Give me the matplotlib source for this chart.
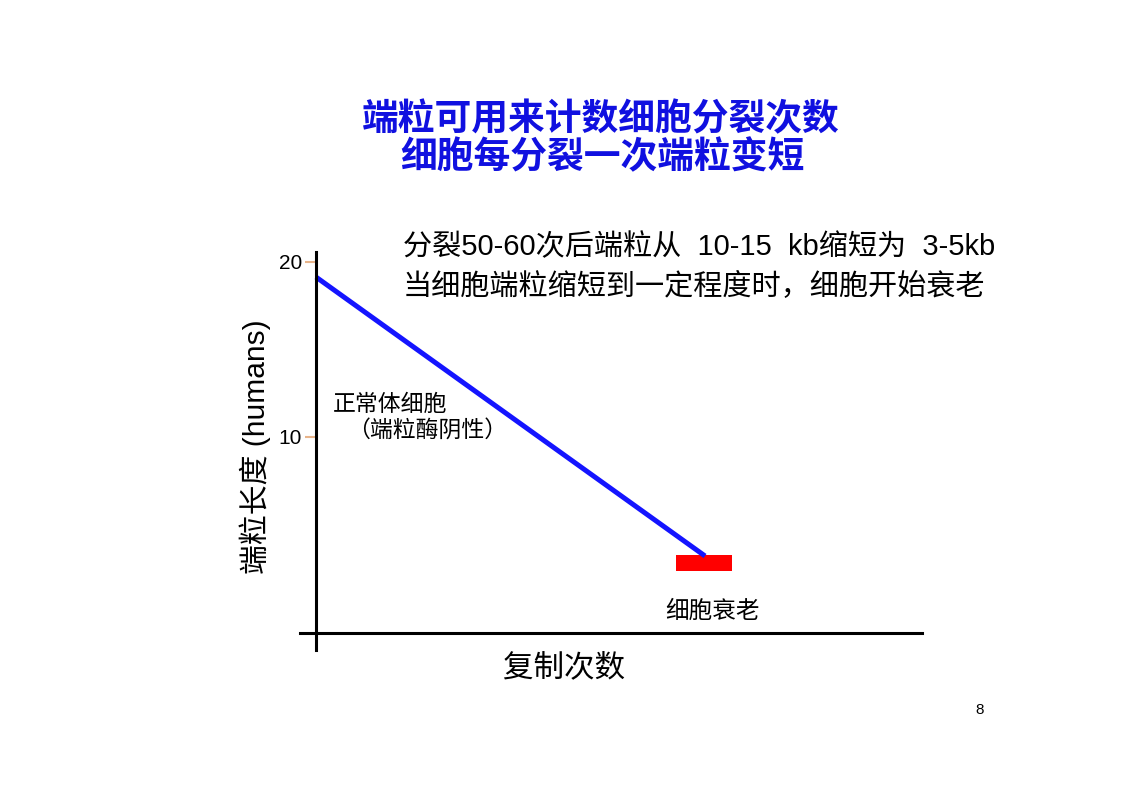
import matplotlib
matplotlib.use("Agg")
import matplotlib.pyplot as plt

plt.rcParams['font.family'] = ['Noto Sans CJK SC', 'DejaVu Sans']

# Data
line_x = [0, 50]
line_y = [19.14, 3.2]
senescence_x = [46.3, 53.5]
senescence_y = [2.34, 3.26]
yticks = [10, 20]
ytick_labels = ["10", "20"]

title_lines = ["端粒可用来计数细胞分裂次数", "细胞每分裂一次端粒变短"]
note_lines = ["分裂50-60次后端粒从  10-15  kb缩短为  3-5kb", "当细胞端粒缩短到一定程度时，细胞开始衰老"]

fig = plt.figure(figsize=(11.22, 7.93), dpi=100)
fig.patch.set_facecolor("white")
ax = fig.add_axes([300/1122, 1-650/793, 622/1122, 398/793])

ax.plot(line_x, line_y, color="#1414ff", lw=3.6, solid_capstyle="butt")
ax.barh(y=(senescence_y[0]+senescence_y[1])/2, width=senescence_x[1]-senescence_x[0],
        left=senescence_x[0], height=senescence_y[1]-senescence_y[0], color="#ff0000")

ax.set_xlim(-2.057, 77.89)
ax.set_ylim(-2.171, 20.571)
ax.spines['left'].set_position(('data', 0))
ax.spines['bottom'].set_position(('data', -1.2))
ax.spines['top'].set_visible(False)
ax.spines['right'].set_visible(False)
for s in ('left', 'bottom'):
    ax.spines[s].set_linewidth(2.2)
    ax.spines[s].set_color('black')
ax.set_xticks([])
ax.set_yticks(yticks)
ax.set_yticklabels(ytick_labels, family=['Liberation Sans', 'DejaVu Sans'], fontsize=15)
ax.tick_params(axis='y', direction='out', length=8, width=1.5, color='#e8b48a', pad=2)
ax.patch.set_alpha(0)

# Title
fig.text(601/1122, 1-120/793, title_lines[0], ha='center', va='center',
         fontsize=26.5, color='#1010e0', fontweight='bold')
fig.text(602/1122, 1-158/793, title_lines[1], ha='center', va='center',
         fontsize=26.5, color='#1010e0', fontweight='bold')

# Notes
fig.text(403/1122, 1-247/793, note_lines[0], ha='left', va='center', fontsize=21,
         family=['Liberation Sans', 'Noto Sans CJK SC'], color='black')
fig.text(403/1122, 1-287/793, note_lines[1], ha='left', va='center', fontsize=21,
         color='black')

fig.text(333/1122, 1-404/793, "正常体细胞", ha='left', va='center', fontsize=16.5)
fig.text(347/1122, 1-430/793, "（端粒酶阴性）", ha='left', va='center', fontsize=16.5)
fig.text(665/1122, 1-611/793, "细胞衰老", ha='left', va='center', fontsize=17)

# Axis labels
fig.text(564/1122, 1-668/793, "复制次数", ha='center', va='center', fontsize=22)
fig.text(255/1122, 1-447/793, "端粒长度 (humans)", ha='center', va='center', fontsize=21.5,
         rotation=90, family=['Liberation Sans', 'Noto Sans CJK SC'])

fig.text(980/1122, 1-710/793, "8", ha='center', va='center', fontsize=11,
         family=['Liberation Sans', 'DejaVu Sans'])

fig.savefig("out.png", dpi=100, facecolor="white")
